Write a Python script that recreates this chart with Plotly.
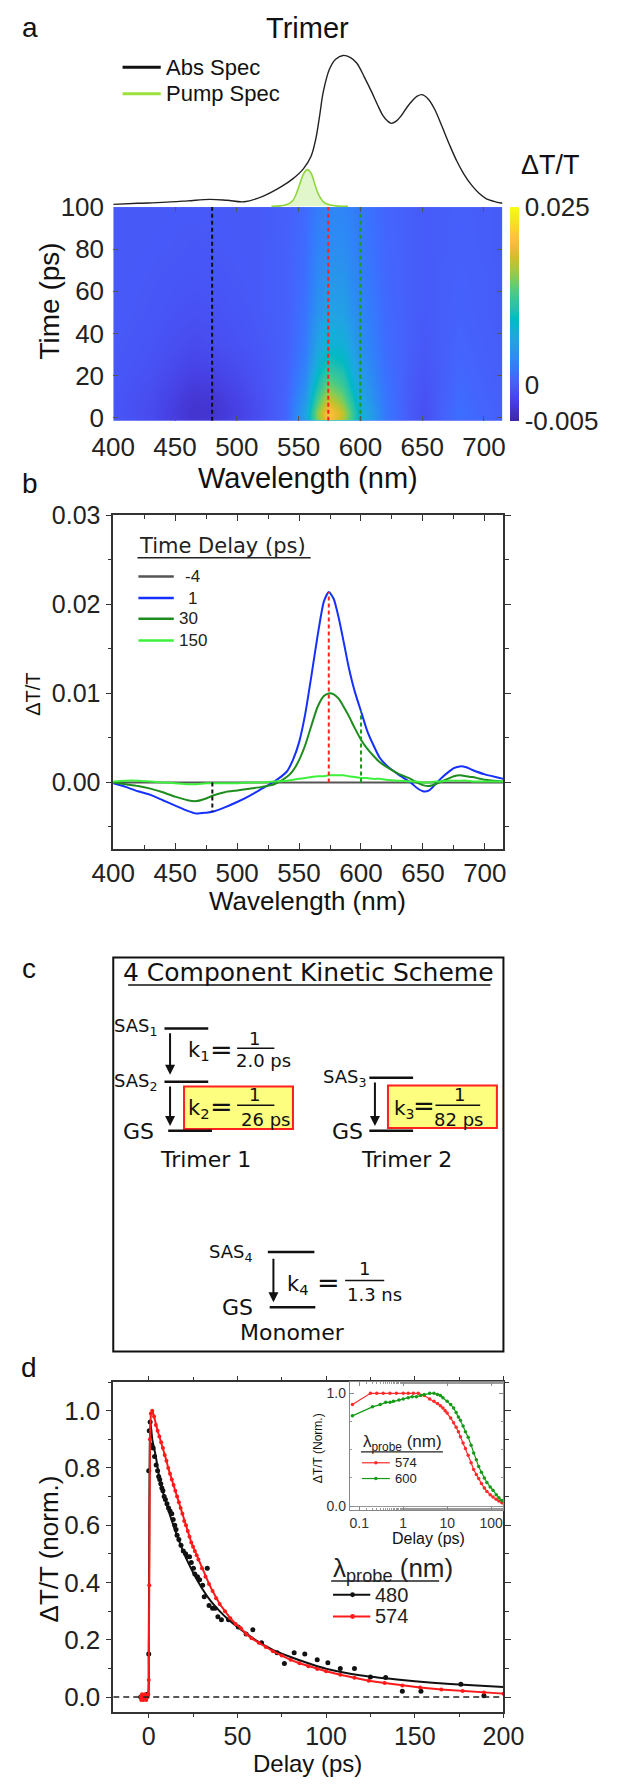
import plotly.graph_objects as go

W, H = 625, 1786
ARIAL = "Liberation Sans, Arial, Helvetica, sans-serif"
VERD = "DejaVu Sans, Verdana, sans-serif"


def xd(px):
    return px / W


def yd(py):
    return 1 - py / H


# ---------------- Panel a : TA map ----------------
hm_wl = [400, 430, 450, 465, 480, 500, 520, 540, 555, 565, 574, 585, 600, 620, 640, 652, 665, 680, 700, 715]
hm_t = [-1.5, -0.5, 2, 8, 15, 25, 35, 50, 65, 80, 100]
hm_z_milli = [
    [0, 0, 0, 0, 0, 0, 0, 0, 0, 0, 0, 0, 0, 0, 0, 0, 0, 0, 0, 0],
    [-0.3, -1.2, -2.4, -3.2, -3.0, -2.0, -0.8, 1.0, 6.0, 15.0, 20.5, 17.0, 8.0, 2.5, 0.0, -1.0, 0.5, 1.5, 0.8, 0.4],
    [-0.4, -1.3, -2.6, -3.4, -3.3, -2.2, -0.9, 1.0, 6.2, 15.5, 21.0, 17.5, 8.0, 2.4, 0.0, -1.0, 0.5, 1.7, 0.8, 0.4],
    [-0.4, -1.2, -2.4, -3.2, -3.1, -2.0, -0.8, 0.9, 5.2, 13.0, 18.0, 15.0, 7.0, 2.2, 0.0, -0.8, 0.4, 1.4, 0.7, 0.3],
    [-0.3, -1.0, -2.0, -2.7, -2.5, -1.6, -0.6, 0.7, 4.2, 10.5, 14.5, 12.5, 6.0, 2.0, 0.1, -0.6, 0.3, 1.2, 0.6, 0.3],
    [-0.2, -0.7, -1.4, -1.9, -1.7, -1.1, -0.4, 0.6, 3.2, 7.8, 10.8, 9.8, 5.0, 1.7, 0.2, -0.3, 0.3, 1.0, 0.5, 0.2],
    [-0.1, -0.5, -1.0, -1.3, -1.1, -0.7, -0.2, 0.5, 2.6, 6.2, 8.2, 7.8, 4.3, 1.5, 0.3, -0.2, 0.3, 0.8, 0.4, 0.2],
    [0.0, -0.3, -0.6, -0.8, -0.7, -0.4, 0.0, 0.5, 2.1, 4.7, 6.2, 6.0, 3.6, 1.3, 0.3, 0.0, 0.3, 0.6, 0.3, 0.1],
    [0.0, -0.2, -0.4, -0.5, -0.4, -0.2, 0.0, 0.5, 1.7, 3.9, 5.0, 5.0, 3.1, 1.1, 0.3, 0.0, 0.3, 0.5, 0.3, 0.1],
    [0.0, -0.1, -0.2, -0.3, -0.2, -0.1, 0.0, 0.5, 1.5, 3.3, 4.1, 4.2, 2.7, 1.0, 0.3, 0.0, 0.2, 0.4, 0.2, 0.1],
    [0.0, 0.0, -0.1, -0.1, -0.1, 0.0, 0.0, 0.4, 1.3, 2.8, 3.4, 3.5, 2.4, 0.9, 0.3, 0.0, 0.2, 0.3, 0.2, 0.1],
]

abs_wl = [400, 420, 440, 460, 478, 492, 506, 521, 536, 545, 554, 560, 564, 567, 570, 575, 580, 586, 592, 597,
          603, 609, 614, 618, 622, 625, 629, 633, 638, 642, 646, 650, 655, 660, 666, 672, 678, 684, 690, 696,
          702, 708, 715]
abs_val = [0.013, 0.020, 0.026, 0.036, 0.046, 0.040, 0.030, 0.066, 0.13, 0.18, 0.25, 0.33, 0.45, 0.60, 0.76, 0.91,
           0.975, 1.0, 0.985, 0.95, 0.86, 0.76, 0.67, 0.605, 0.565, 0.55, 0.565, 0.60, 0.66, 0.70, 0.73, 0.74,
           0.71, 0.645, 0.53, 0.41, 0.30, 0.21, 0.14, 0.086, 0.05, 0.033, 0.02]

pump_wl = [528, 535, 540, 545, 548, 551, 554, 557, 560, 563, 566, 570, 575, 580, 590]
pump_val = [0.0, 0.003, 0.01, 0.035, 0.08, 0.15, 0.215, 0.243, 0.22, 0.15, 0.08, 0.03, 0.01, 0.003, 0.0]

probe_wl = [480, 574, 600]
probe_col = ["#111111", "#ff2222", "#1e9a1e"]

cbar_vals = [-0.005, 0, 0.025]
cbar_text = ["-0.005", "0", "0.025"]

# ---------------- Panel b : spectra ----------------
spec_wl = [400, 410, 420, 430, 440, 450, 460, 467, 475, 480, 490, 500, 510, 520, 530, 540, 545, 550, 555, 560,
           565, 570, 574, 578, 582, 586, 590, 595, 600, 605, 610, 615, 620, 630, 640, 645, 650, 655, 660, 665,
           670, 675, 680, 685, 690, 700, 715]
spec_m4 = [0.0] * 47
spec_1 = [-0.0001, -0.0005, -0.0010, -0.0014, -0.0020, -0.0026, -0.0032, -0.0035, -0.0034, -0.0033,
          -0.0028, -0.0022, -0.0015, -0.0007, 0.0001, 0.0012, 0.0025, 0.0045, 0.0077, 0.0120,
          0.0165, 0.0203, 0.0214, 0.0206, 0.0185, 0.0158, 0.0130, 0.0102, 0.0080, 0.0058,
          0.0042, 0.0028, 0.0020, 0.0009, 0.0000, -0.0006, -0.0010, -0.0009, -0.0002, 0.0005,
          0.0011, 0.0016, 0.0018, 0.0017, 0.0014, 0.0009, 0.0004]
spec_30 = [0.0000, -0.0002, -0.0004, -0.0007, -0.0011, -0.0016, -0.0020, -0.0021, -0.0018, -0.0015,
           -0.0011, -0.0009, -0.0007, -0.0005, -0.0002, 0.0006, 0.0013, 0.0025, 0.0042, 0.0064,
           0.0085, 0.0097, 0.0100, 0.0099, 0.0094, 0.0085, 0.0075, 0.0061, 0.0048, 0.0038,
           0.0030, 0.0023, 0.0018, 0.0010, 0.0004, 0.0000, -0.0003, -0.0004, -0.0002, 0.0001,
           0.0004, 0.0007, 0.0008, 0.0007, 0.0006, 0.0003, 0.0001]
spec_150 = [0.0001, 0.0002, 0.0002, 0.0001, 0.0000, -0.0001, -0.0002, -0.0002, -0.0001, -0.0001,
            -0.0001, -0.0001, 0.0000, 0.0000, 0.0001, 0.0002, 0.0003, 0.0004, 0.0005, 0.0006,
            0.0007, 0.0007, 0.0008, 0.0008, 0.0008, 0.0008, 0.0007, 0.0006, 0.0005, 0.0005,
            0.0004, 0.0004, 0.0003, 0.0002, 0.0001, 0.0001, 0.0000, 0.0000, 0.0001, 0.0001,
            0.0002, 0.0002, 0.0002, 0.0002, 0.0001, 0.0001, 0.0001]
delay_names = ["-4", "1", "30", "150"]
delay_cols = ["#555555", "#1530ff", "#1e8c1e", "#3cf03c"]

# ---------------- Panel d : kinetics ----------------
blk_t = [-4.5, -3.8, -3, -2.2, -1.5, -0.8, 0, 0, 0.3, 0.8,
         1.6, 2.5, 3.3, 4.2, 5, 5.6, 6.2, 6.8, 7.4, 8,
         8.7, 9.4, 10.3, 11.2, 12, 13, 13.8, 14.7, 15.4, 16,
         17, 18.2, 19.5, 20.8, 21.7, 23, 24, 25.2, 26, 27.5,
         28.7, 30.4, 31.3, 33, 34, 36, 37.4, 39, 41, 45,
         50.5, 54.9, 58.7, 63.6, 72.4, 76.5, 82, 88, 95, 101,
         108, 116, 125, 133.6, 143, 153.5, 176, 189]
blk_v = [0, -0.005, 0, 0, 0, 0.01, 0.15, 0.79, 0.93, 0.96,
         0.88, 0.87, 0.84, 0.81, 0.79, 0.77, 0.76, 0.745, 0.73, 0.72,
         0.70, 0.69, 0.675, 0.66, 0.65, 0.64, 0.62, 0.60, 0.585, 0.565,
         0.55, 0.53, 0.51, 0.50, 0.49, 0.49, 0.47, 0.45, 0.43, 0.42,
         0.41, 0.39, 0.35, 0.45, 0.32, 0.31, 0.31, 0.28, 0.27, 0.27,
         0.245, 0.22, 0.235, 0.19, 0.155, 0.117, 0.155, 0.15, 0.13, 0.12,
         0.10, 0.10, 0.07, 0.068, 0.02, 0.02, 0.045, 0.005]
bfit_t = [-5, -1, -0.3, 0, 0.3, 0.6, 1, 2, 3, 4, 6, 8, 10, 12, 15, 20, 25, 30, 35, 40,
          45, 50, 60, 70, 80, 90, 100, 120, 140, 160, 180, 200]
bfit_v = [0, 0, 0, 0.15, 0.6, 0.88, 0.96, 0.90, 0.87, 0.84, 0.765, 0.715, 0.675, 0.635, 0.58, 0.5, 0.435, 0.38,
          0.335, 0.3, 0.27, 0.245, 0.2, 0.165, 0.14, 0.118, 0.099, 0.075, 0.061, 0.05, 0.042, 0.035]
red_t = [-4.6, -4.2, -3.8, -3.4, -3, -2.6, -2.2, -1.8, -1.4, -1,
         -0.6, -0.3, 0, 0.3, 0.7, 1.2, 2, 3, 4, 5,
         6, 7, 8, 9, 10, 11, 12, 13, 14, 15,
         16, 17, 18, 19, 20, 21, 22, 23, 24, 25,
         26, 27, 28, 30, 32, 34, 36, 38, 40, 43,
         46, 49, 52, 55, 58, 62, 66, 70, 75, 80,
         85, 90, 95, 100, 108, 116, 124, 133, 143, 153,
         165, 177, 189, 200]
red_v = [0, -0.01, 0.01, 0, -0.01, 0, 0.01, 0, -0.01, 0,
         0, 0.01, 0.06, 0.39, 0.90, 0.99, 1.0, 0.98, 0.95, 0.93,
         0.91, 0.89, 0.87, 0.845, 0.825, 0.80, 0.78, 0.76, 0.74, 0.72,
         0.70, 0.68, 0.66, 0.64, 0.615, 0.60, 0.58, 0.56, 0.54, 0.525,
         0.51, 0.495, 0.48, 0.45, 0.42, 0.395, 0.37, 0.345, 0.325, 0.30,
         0.275, 0.255, 0.24, 0.22, 0.205, 0.19, 0.175, 0.16, 0.145, 0.13,
         0.118, 0.108, 0.098, 0.09, 0.078, 0.067, 0.057, 0.049, 0.04, 0.033,
         0.026, 0.021, 0.016, 0.012]

ins_red_t = [0.07, 0.18, 0.25, 0.35, 0.5, 0.7, 1, 1.3, 1.7, 2.2, 3, 4, 5, 6, 7, 8, 9, 10, 12, 14,
             16, 18, 20, 23, 26, 30, 35, 40, 46, 52, 60, 70, 80, 95, 110, 130, 150, 175, 200]
ins_red_v = [0.9, 1.0, 1.0, 1.0, 1.0, 1.0, 1.0, 1.0, 1.0, 1.0, 0.98, 0.95, 0.93, 0.91, 0.89, 0.87, 0.845,
             0.825, 0.78, 0.74, 0.70, 0.66, 0.615, 0.56, 0.51, 0.45, 0.385, 0.325, 0.28, 0.245, 0.2, 0.16,
             0.13, 0.1, 0.08, 0.06, 0.045, 0.03, 0.015]
ins_grn_t = [0.07, 0.2, 0.3, 0.4, 0.5, 0.6, 0.8, 1, 1.3, 1.6, 2, 2.5, 3, 4, 5, 6, 7, 8, 10, 12,
             14, 16, 18, 20, 23, 26, 30, 35, 40, 46, 52, 60, 70, 80, 95, 110, 130, 150, 175, 200]
ins_grn_v = [0.80, 0.88, 0.90, 0.92, 0.92, 0.93, 0.94, 0.95, 0.96, 0.97, 0.97, 0.98, 0.99, 1.0, 1.0, 0.99,
             0.98, 0.96, 0.93, 0.90, 0.87, 0.83, 0.79, 0.76, 0.71, 0.66, 0.61, 0.54, 0.47, 0.41, 0.35, 0.30,
             0.25, 0.21, 0.17, 0.14, 0.10, 0.075, 0.05, 0.03]

# parula colormap (MATLAB)
parula64 = [
    [0.2422, 0.1504, 0.6603], [0.2504, 0.1650, 0.7076], [0.2578, 0.1818, 0.7511], [0.2647, 0.1978, 0.7952],
    [0.2706, 0.2147, 0.8364], [0.2751, 0.2342, 0.8710], [0.2783, 0.2559, 0.8991], [0.2803, 0.2782, 0.9221],
    [0.2813, 0.3006, 0.9414], [0.2810, 0.3228, 0.9579], [0.2795, 0.3447, 0.9717], [0.2760, 0.3667, 0.9829],
    [0.2699, 0.3892, 0.9906], [0.2602, 0.4123, 0.9952], [0.2440, 0.4358, 0.9988], [0.2206, 0.4603, 0.9973],
    [0.1963, 0.4847, 0.9892], [0.1834, 0.5074, 0.9798], [0.1786, 0.5289, 0.9682], [0.1764, 0.5499, 0.9520],
    [0.1687, 0.5703, 0.9359], [0.1540, 0.5902, 0.9218], [0.1460, 0.6091, 0.9079], [0.1380, 0.6276, 0.8973],
    [0.1248, 0.6459, 0.8883], [0.1113, 0.6635, 0.8763], [0.0952, 0.6798, 0.8598], [0.0689, 0.6948, 0.8394],
    [0.0297, 0.7082, 0.8163], [0.0036, 0.7203, 0.7917], [0.0067, 0.7312, 0.7660], [0.0433, 0.7411, 0.7394],
    [0.0964, 0.7500, 0.7120], [0.1408, 0.7584, 0.6842], [0.1717, 0.7670, 0.6554], [0.1938, 0.7758, 0.6251],
    [0.2161, 0.7843, 0.5923], [0.2470, 0.7918, 0.5567], [0.2906, 0.7973, 0.5188], [0.3406, 0.8008, 0.4789],
    [0.3909, 0.8029, 0.4354], [0.4456, 0.8024, 0.3909], [0.5044, 0.7993, 0.3480], [0.5616, 0.7942, 0.3045],
    [0.6174, 0.7876, 0.2612], [0.6720, 0.7793, 0.2227], [0.7242, 0.7698, 0.1910], [0.7738, 0.7598, 0.1646],
    [0.8203, 0.7498, 0.1535], [0.8634, 0.7406, 0.1596], [0.9035, 0.7330, 0.1774], [0.9393, 0.7288, 0.2100],
    [0.9728, 0.7298, 0.2394], [0.9956, 0.7434, 0.2371], [0.9970, 0.7659, 0.2199], [0.9952, 0.7893, 0.2028],
    [0.9892, 0.8136, 0.1885], [0.9786, 0.8386, 0.1766], [0.9676, 0.8639, 0.1643], [0.9610, 0.8890, 0.1537],
    [0.9597, 0.9135, 0.1423], [0.9628, 0.9373, 0.1265], [0.9691, 0.9606, 0.1064], [0.9769, 0.9839, 0.0805],
]
idx = list(range(0, 64, 3)) + [63]
parula = [[i / 63, "rgb(%d,%d,%d)" % tuple(round(c * 255) for c in parula64[i])] for i in idx]

hm_z = [[v * 1e-3 for v in row] for row in hm_z_milli]

fig = go.Figure()

# ---- panel a
fig.add_trace(go.Scatter(x=pump_wl, y=pump_val, xaxis="x2", yaxis="y2", mode="lines", fill="tozeroy",
                         fillcolor="rgba(200,238,160,0.55)", line=dict(width=0), hoverinfo="skip"))
fig.add_trace(go.Scatter(x=abs_wl, y=abs_val, xaxis="x2", yaxis="y2", mode="lines", name="Abs Spec",
                         line=dict(color="#222222", width=1.4, shape="spline")))
fig.add_trace(go.Scatter(x=pump_wl, y=pump_val, xaxis="x2", yaxis="y2", mode="lines", name="Pump Spec",
                         line=dict(color="#8fd63a", width=1.6, shape="spline")))
fig.add_trace(go.Heatmap(x=hm_wl, y=hm_t, z=hm_z, zsmooth="best", colorscale=parula, zmin=-0.005, zmax=0.025,
                         xaxis="x", yaxis="y",
                         colorbar=dict(x=xd(524), xanchor="left", xpad=0, ypad=0, thickness=9,
                                       len=(412 - 195) / H, lenmode="fraction", y=yd(412), yanchor="bottom",
                                       tickvals=cbar_vals, ticktext=cbar_text, ticks="", outlinewidth=0,
                                       tickfont=dict(size=26, family=ARIAL, color="#222"))))
for wl, col in zip(probe_wl, probe_col):
    fig.add_trace(go.Scatter(x=[wl, wl], y=[-1.5, 100], xaxis="x", yaxis="y", mode="lines",
                             line=dict(color=col, width=2, dash="4px,3px"), hoverinfo="skip"))

# ---- panel b
for name, col, vals in zip(delay_names, delay_cols, [spec_m4, spec_1, spec_30, spec_150]):
    fig.add_trace(go.Scatter(x=spec_wl, y=vals, xaxis="x3", yaxis="y3", mode="lines", name=name,
                             line=dict(color=col, width=2, shape="spline", smoothing=0.6)))
for wl, col in zip(probe_wl, probe_col):
    top = spec_1[spec_wl.index(wl)]
    fig.add_trace(go.Scatter(x=[wl, wl], y=[0, top], xaxis="x3", yaxis="y3", mode="lines",
                             line=dict(color=col, width=2, dash="4px,3px"), hoverinfo="skip"))

# ---- panel d
fig.add_trace(go.Scatter(x=blk_t, y=blk_v, xaxis="x4", yaxis="y4", mode="markers", name="480 data",
                         marker=dict(color="#111", size=5)))
fig.add_trace(go.Scatter(x=bfit_t, y=bfit_v, xaxis="x4", yaxis="y4", mode="lines", name="480",
                         line=dict(color="#111", width=2, shape="spline", smoothing=0.5)))
fig.add_trace(go.Scatter(x=red_t, y=red_v, xaxis="x4", yaxis="y4", mode="lines+markers", name="574",
                         line=dict(color="#ff1a1a", width=2), marker=dict(size=4, color="#ff1a1a")))
fig.add_trace(go.Scatter(x=ins_red_t, y=ins_red_v, xaxis="x5", yaxis="y5", mode="lines+markers", name="574",
                         line=dict(color="#ff2a2a", width=1.2), marker=dict(size=3.5, color="#ff2a2a")))
fig.add_trace(go.Scatter(x=ins_grn_t, y=ins_grn_v, xaxis="x5", yaxis="y5", mode="lines+markers", name="600",
                         line=dict(color="#159a15", width=1.2), marker=dict(size=3.5, color="#159a15")))

tick_font = dict(size=26, family=ARIAL, color="#222")


def frame_axis(**kw):
    d = dict(showgrid=False, zeroline=False, showline=True, linecolor="#333", linewidth=1.5,
             mirror="allticks", tickfont=tick_font, tickcolor="#333")
    d.update(kw)
    return d


layout = dict(
    width=W, height=H, margin=dict(l=0, r=0, t=0, b=0), paper_bgcolor="white", plot_bgcolor="white",
    showlegend=False,
    xaxis=dict(domain=[xd(98), xd(516)], anchor="y", range=[400, 715], tickvals=[400, 450, 500, 550, 600, 650, 700],
               ticks="inside", ticklen=5, tickcolor="#555", showline=True, linecolor="rgba(0,0,0,0)",
               mirror="ticks", showgrid=False, zeroline=False, tickfont=tick_font, ticklabelstandoff=3),
    yaxis=dict(domain=[yd(412), yd(195)], anchor="x", range=[-1.5, 100], tickvals=[0, 20, 40, 60, 80, 100],
               ticks="inside", ticklen=5, tickcolor="#555", showline=True, linecolor="rgba(0,0,0,0)",
               mirror="ticks", showgrid=False, zeroline=False, tickfont=tick_font, ticklabelstandoff=3),
    xaxis2=dict(domain=[xd(98), xd(516)], anchor="y2", range=[400, 715], visible=False),
    yaxis2=dict(domain=[yd(195), yd(38)], anchor="x2", range=[-0.005, 1.02], visible=False),
    xaxis3=frame_axis(domain=[xd(98), xd(517)], anchor="y3", range=[400, 715],
                      tickvals=[400, 450, 500, 550, 600, 650, 700], ticks="inside", ticklen=6,
                      minor=dict(dtick=25, tick0=400, ticks="inside", ticklen=4, tickcolor="#333")),
    yaxis3=frame_axis(domain=[yd(847), yd(508)], anchor="x3", range=[-0.0075, 0.03],
                      tickvals=[0, 0.01, 0.02, 0.03], ticktext=["0.00", "0.01", "0.02", "0.03"],
                      ticks="outside", ticklen=6,
                      minor=dict(dtick=0.005, tick0=0, ticks="outside", ticklen=4, tickcolor="#333"),
                      tickfont=dict(size=25, family=ARIAL, color="#222")),
    xaxis4=frame_axis(domain=[xd(98), xd(517)], anchor="y4", range=[-20, 200],
                      tickvals=[0, 50, 100, 150, 200], ticks="outside", ticklen=4,
                      minor=dict(dtick=25, tick0=0, ticks="outside", ticklen=3, tickcolor="#333"),
                      tickfont=dict(size=25, family=ARIAL, color="#222"), ticklabelstandoff=-3),
    yaxis4=frame_axis(domain=[yd(1723), yd(1388)], anchor="x4", range=[-0.052, 1.10],
                      tickvals=[0, 0.2, 0.4, 0.6, 0.8, 1.0], tickformat=".1f", ticks="outside", ticklen=6,
                      minor=dict(dtick=0.1, tick0=0, ticks="outside", ticklen=4, tickcolor="#333")),
    xaxis5=dict(domain=[xd(352), xd(517)], anchor="y5", type="log", range=[-1.215, 2.279],
                tickvals=[0.1, 1, 10, 100], ticktext=["0.1", "1", "10", "100"], ticks="inside", ticklen=4,
                showline=True, linecolor="#888", linewidth=1, mirror="allticks", showgrid=False, zeroline=False,
                tickfont=dict(size=14, family=ARIAL, color="#333"), tickcolor="#888",
                minor=dict(ticks="inside", ticklen=2, tickcolor="#999")),
    yaxis5=dict(domain=[yd(1518), yd(1388)], anchor="x5", range=[-0.035, 1.1], tickvals=[0, 1],
                ticktext=["0.0", "1.0"], ticks="inside", ticklen=4, showline=True, linecolor="#888", linewidth=1,
                mirror="allticks", showgrid=False, zeroline=True, zerolinecolor="#999", zerolinewidth=1,
                tickfont=dict(size=14, family=ARIAL, color="#333"), tickcolor="#888",
                minor=dict(dtick=0.25, tick0=0, ticks="inside", ticklen=2, tickcolor="#999")),
)
fig.update_layout(**layout)


def ann(text, x, y, size, family=ARIAL, xanchor="center", yanchor="middle", angle=0, color="#111"):
    return dict(text=text, x=xd(x), y=yd(y), xref="paper", yref="paper", showarrow=False,
                font=dict(size=size, family=family, color=color), xanchor=xanchor, yanchor=yanchor,
                textangle=angle)


def arrow(x, y0, y1):
    return dict(text="", x=xd(x), y=yd(y1), xref="paper", yref="paper", ax=0, ay=-(y1 - y0), axref="pixel",
                ayref="pixel", showarrow=True, arrowhead=2, arrowsize=1, arrowwidth=2, arrowcolor="#111",
                standoff=0)


def hline(x0, x1, y, width=2.5, color="#111"):
    return dict(type="line", xref="paper", yref="paper", x0=xd(x0), x1=xd(x1), y0=yd(y), y1=yd(y),
                line=dict(color=color, width=width))


def rect(x0, y0, x1, y1, fill, lc, lw):
    return dict(type="rect", xref="paper", yref="paper", x0=xd(x0), x1=xd(x1), y0=yd(y1), y1=yd(y0),
                fillcolor=fill, line=dict(color=lc, width=lw), layer="below")


def dot(cx, cy, r, color):
    return dict(type="circle", xref="paper", yref="paper", x0=xd(cx - r), x1=xd(cx + r), y0=yd(cy + r),
                y1=yd(cy - r), fillcolor=color, line=dict(width=0))


annotations = [
    ann("a", 9, 13, 28), ann("b", 9, 476, 28), ann("c", 8, 968, 28), ann("d", 8, 1373, 28),
    ann("Trimer", 307, 13, 29),
    ann("Time (ps)", 30, 290, 28, angle=-90),
    ann("Wavelength (nm)", 307, 470, 29),
    ann("ΔT/T", 568, 152, 27),
    ann("ΔT/T", 11, 690, 20, angle=-90),
    ann("Wavelength (nm)", 307, 900, 26),
    ann("ΔT/T (norm.)", 30, 1557, 26, angle=-90),
    ann("Delay (ps)", 307, 1775, 24),
    ann("ΔT/T (Norm.)", 318, 1455, 12, angle=-90),
    ann("Delay (ps)", 436, 1547, 16),
    # legend a
    ann("Abs Spec", 152, 53, 22, xanchor="left"),
    ann("Pump Spec", 152, 80, 22, xanchor="left"),
    # legend b
    ann("Time Delay (ps)", 124, 539, 21, VERD, xanchor="left", color="#222"),
    ann("-4", 173, 570, 17, xanchor="left", color="#222"),
    ann("1", 176, 592, 17, xanchor="left", color="#222"),
    ann("30", 166, 613, 17, xanchor="left", color="#222"),
    ann("150", 166, 635, 17, xanchor="left", color="#222"),
    # legend d
    ann("λ<sub>probe</sub> (nm)", 332, 1578, 26, xanchor="left", color="#222"),
    ann("480", 377, 1604, 20, xanchor="left", color="#222"),
    ann("574", 377, 1626, 20, xanchor="left", color="#222"),
    # legend inset
    ann("λ<sub>probe</sub> (nm)", 364, 1450, 17, xanchor="left", color="#222"),
    ann("574", 398, 1470, 13, xanchor="left", color="#222"),
    ann("600", 398, 1486, 13, xanchor="left", color="#222"),
    # panel c
    ann("4 Component Kinetic Scheme", 308, 972, 25, VERD),
    ann("SAS<sub>1</sub>", 148, 1028, 18, VERD, xanchor="right"),
    ann("k<sub>1</sub>", 176, 1052, 21, VERD, xanchor="left"),
    ann("=", 214, 1050, 27, VERD),
    ann("1", 250, 1039, 18, VERD), ann("2.0 ps", 259, 1062, 18, VERD),
    ann("SAS<sub>2</sub>", 148, 1083, 18, VERD, xanchor="right"),
    ann("k<sub>2</sub>", 176, 1111, 21, VERD, xanchor="left"),
    ann("=", 214, 1108, 27, VERD),
    ann("1", 250, 1096, 18, VERD), ann("26 ps", 262, 1121, 18, VERD),
    ann("GS", 144, 1134, 22, VERD, xanchor="right"),
    ann("Trimer 1", 197, 1162, 22, VERD),
    ann("SAS<sub>3</sub>", 373, 1079, 18, VERD, xanchor="right"),
    ann("k<sub>3</sub>", 397, 1111, 20, VERD, xanchor="left"),
    ann("=", 432, 1108, 26, VERD),
    ann("1", 470, 1096, 18, VERD), ann("82 ps", 469, 1121, 18, VERD),
    ann("GS", 368, 1134, 22, VERD, xanchor="right"),
    ann("Trimer 2", 413, 1162, 22, VERD),
    ann("SAS<sub>4</sub>", 250, 1257, 18, VERD, xanchor="right"),
    ann("k<sub>4</sub>", 282, 1289, 21, VERD, xanchor="left"),
    ann("=", 329, 1287, 27, VERD),
    ann("1", 368, 1273, 18, VERD), ann("1.3 ns", 379, 1299, 18, VERD),
    ann("GS", 250, 1312, 22, VERD, xanchor="right"),
    ann("Monomer", 290, 1338, 22, VERD),
    arrow(159, 1033, 1076), arrow(159, 1087, 1128), arrow(379, 1083, 1128), arrow(270, 1262, 1307),
]

shapes = [
    # legend a samples
    hline(108, 149, 53, 3, "#111"), hline(108, 149, 80, 3, "#9be03c"),
    # legend b
    hline(124, 310, 551, 1.5, "#222"),
    hline(125, 163, 570, 2.5, delay_cols[0]), hline(125, 163, 592, 2.5, delay_cols[1]),
    hline(125, 163, 613, 2.5, delay_cols[2]), hline(125, 163, 635, 2.5, delay_cols[3]),
    # legend d
    hline(332, 448, 1590, 1.5, "#222"),
    hline(334, 374, 1604, 2, "#111"), dot(355, 1604, 2.5, "#111"),
    hline(334, 374, 1626, 2, "#ff1a1a"), dot(355, 1626, 2.5, "#ff1a1a"),
    # legend inset
    hline(364, 452, 1459, 1.2, "#222"),
    hline(365, 395, 1470, 1.2, "#ff2a2a"), dot(380, 1470, 1.8, "#ff2a2a"),
    hline(365, 395, 1486, 1.2, "#159a15"), dot(380, 1486, 1.8, "#159a15"),
    # panel c
    rect(98, 957, 517, 1357, "rgba(0,0,0,0)", "#111", 2),
    hline(114, 503, 985, 1.5),
    hline(153, 200, 1029), hline(153, 200, 1083), hline(157, 204, 1133),
    rect(174, 1088, 291, 1131, "#fdfd80", "#ff2020", 2),
    rect(393, 1087, 510, 1130, "#fdfd80", "#ff2020", 2),
    hline(231, 271, 1049, 1.5), hline(231, 271, 1107, 1.5), hline(444, 492, 1107, 1.5),
    hline(373, 420, 1079), hline(373, 420, 1133),
    hline(264, 314, 1256), hline(266, 315, 1312), hline(347, 389, 1285, 1.5),
    dict(type="line", xref="x4", yref="y4", x0=-20, x1=200, y0=0, y1=0,
         line=dict(color="#222", width=1.5, dash="6px,4px")),
]
fig.update_layout(annotations=annotations, shapes=shapes)

fig.write_html("out.html", config={"displayModeBar": False},
               post_script="document.body.style.margin='0';document.body.style.overflow='hidden';")
